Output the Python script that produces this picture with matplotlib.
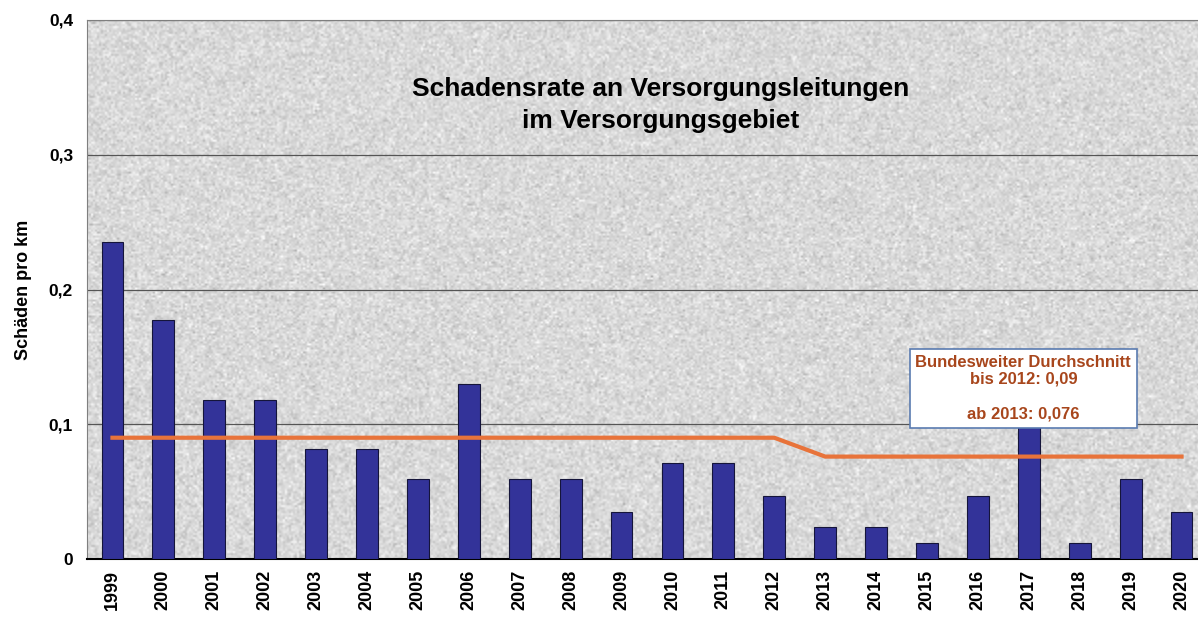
import matplotlib.pyplot as plt
import numpy as np

# Schadensrate je Jahr (Schäden pro km)
years = ["1999", "2000", "2001", "2002", "2003", "2004", "2005", "2006", "2007", "2008", "2009",
         "2010", "2011", "2012", "2013", "2014", "2015", "2016", "2017", "2018", "2019", "2020"]
rate = [0.235, 0.177, 0.118, 0.118, 0.082, 0.082, 0.059, 0.130, 0.059, 0.059, 0.035,
        0.071, 0.071, 0.047, 0.024, 0.024, 0.012, 0.047, 0.100, 0.012, 0.059, 0.035]

# Bundesweiter Durchschnitt (Knickpunkte)
avg_years = ["1999", "2012", "2013", "2020"]
avg_vals = [0.09, 0.09, 0.076, 0.076]

yticks = [0, 0.1, 0.2, 0.3, 0.4]
ytick_labels = ["0", "0,1", "0,2", "0,3", "0,4"]

plt.rcParams['font.family'] = ['Liberation Sans', 'DejaVu Sans']
plt.rcParams['font.weight'] = 'bold'

fig = plt.figure(figsize=(11.98, 6.18), dpi=100)
# plot area runs past the right edge in the original
ax = fig.add_axes([87 / 1198, 59 / 618, 1120 / 1198, 539 / 618])
ax.set_facecolor('#d7d7d5')

# granite-like backdrop (decoration only)
rng = np.random.default_rng(3)
tex = rng.normal(0.85, 0.05, size=(270, 560))
ax.imshow(tex, cmap='gray', vmin=0, vmax=1, extent=(-0.5, len(years) - 0.5, 0, 0.4),
          aspect='auto', interpolation='bilinear', zorder=0)

x = np.arange(len(years))
ax.bar(x, rate, width=0.43, color='#333399', edgecolor='#15153a', linewidth=0.8, zorder=3)

ax_x = [years.index(y) for y in avg_years]
ax.plot(ax_x, avg_vals, color='#e8733a', linewidth=3, zorder=4)

ax.set_xlim(-0.5, len(years) - 0.5)
ax.set_ylim(0, 0.4)
ax.set_yticks(yticks)
ax.set_yticklabels(ytick_labels, fontsize=12.5, fontweight='bold')
ax.set_xticks(x)
ax.set_xticklabels(years, rotation=90, fontsize=13, fontweight='bold')
ax.tick_params(axis='x', length=0, pad=8)
ax.tick_params(axis='y', length=0, pad=10)
ax.yaxis.grid(True, color='#555555', linewidth=0.9)
for gl in ax.get_ygridlines():
    gl.set_zorder(1)

for s in ['top', 'right', 'left']:
    ax.spines[s].set_color('#7f7f7f')
ax.spines['bottom'].set_color('black')
ax.spines['bottom'].set_linewidth(1.5)

ax.set_ylabel("Schäden pro km", fontsize=13, fontweight='bold', labelpad=12)

ax.text(0.512, 0.842, "Schadensrate an Versorgungsleitungen\nim Versorgungsgebiet",
        transform=ax.transAxes, ha='center', va='center', fontsize=19,
        fontweight='bold', linespacing=1.4, color='black', zorder=5)

ax.text(0.836, 0.317, "Bundesweiter Durchschnitt\nbis 2012: 0,09\n\nab 2013: 0,076",
        transform=ax.transAxes, ha='center', va='center', fontsize=12,
        fontweight='bold', color='#a8461c', linespacing=1.2, zorder=6,
        bbox=dict(boxstyle='square,pad=0.35', facecolor='white', edgecolor='#5a7bb0', linewidth=1.2))

fig.savefig("out.png", dpi=100)
